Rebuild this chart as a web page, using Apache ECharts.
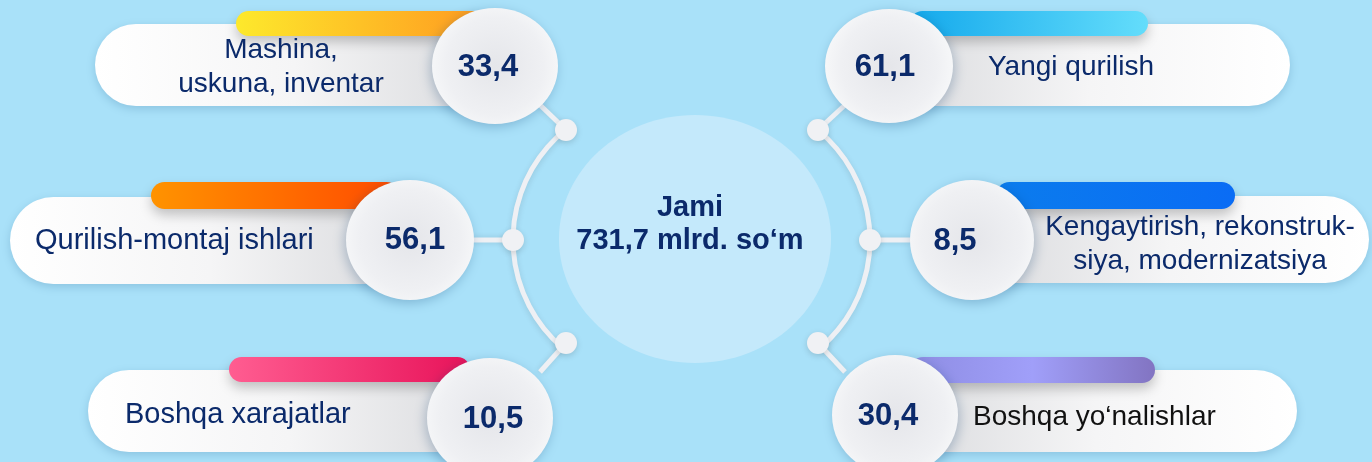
<!DOCTYPE html>
<html>
<head>
<meta charset="utf-8">
<script src="https://cdn.jsdelivr.net/npm/echarts@6/dist/echarts.min.js"></script>
<style>
  html, body { margin: 0; padding: 0; background: #a9e1f9; }
  #chart { width: 1372px; height: 462px; }
</style>
</head>
<body>
<div id="chart"></div>
<script>
// data
const categories = [
  'Mashina,\nuskuna, inventar',
  'Qurilish-montaj ishlari',
  'Boshqa xarajatlar',
  'Yangi qurilish',
  'Kengaytirish, rekonstruk-\nsiya, modernizatsiya',
  'Boshqa yo‘nalishlar'
]
const values = [33.4, 56.1, 10.5, 61.1, 8.5, 30.4]
const totalLabel = 'Jami'
const total = 731.7
const unit = 'mlrd. so‘m'

// styling
const barColors = [
  ['#fde92c', '#ff9a20'],
  ['#ff9300', '#ff4a00'],
  ['#ff5d91', '#e8135a'],
  ['#14a9ec', '#64ddfb'],
  ['#0b7ced', '#0a6cf5'],
  ['#8e8de3', '#a09ff9', '#8274c2']
]
const labelColors = ['#0b2a6b', '#0b2a6b', '#0b2a6b', '#0b2a6b', '#0b2a6b', '#111111']
const labelSizes = [28, 29, 29, 28, 28, 28]
const navy = '#0b2a6b'

// layout of each card: white pill, gradient bar, value circle, text anchors
const layout = [
  { side: 'L', card: [95, 24, 400, 82], bar: [236, 11, 249, 25], circ: [495, 66, 63, 58], val: [488, 67], lab: [281, 67], align: 'center', conn: [[566, 130], [540, 105]] },
  { side: 'L', card: [10, 197, 400, 87], bar: [151, 182, 249, 27], circ: [410, 240, 64, 60], val: [415, 240], lab: [35, 241], align: 'left', conn: [[513, 240], [470, 240]] },
  { side: 'L', card: [88, 370, 402, 82], bar: [229, 357, 241, 25], circ: [490, 418, 63, 60], val: [493, 419], lab: [125, 415], align: 'left', conn: [[566, 343], [540, 372]] },
  { side: 'R', card: [889, 24, 401, 82], bar: [910, 11, 238, 25], circ: [889, 66, 64, 57], val: [885, 67], lab: [988, 67], align: 'left', conn: [[818, 130], [845, 105]] },
  { side: 'R', card: [972, 196, 397, 87], bar: [996, 182, 239, 27], circ: [972, 240, 62, 60], val: [955, 241], lab: [1200, 244], align: 'center', conn: [[870, 240], [912, 240]] },
  { side: 'R', card: [895, 370, 402, 82], bar: [910, 357, 245, 26], circ: [895, 415, 63, 60], val: [888, 416], lab: [973, 417], align: 'left', conn: [[818, 343], [845, 372]] }
]

const fmt = v => v.toFixed(1).replace('.', ',')
const deg = d => d * Math.PI / 180

const chart = echarts.init(document.getElementById('chart'))

const decor = [
  {
    type: 'ellipse', z: 1,
    shape: { cx: 695, cy: 239, rx: 136, ry: 124 },
    style: { fill: '#c4e9fb' }
  },
  {
    type: 'arc', z: 1,
    shape: { cx: 655, cy: 240, r: 142, startAngle: deg(130.8), endAngle: deg(231) },
    style: { stroke: '#eef0f4', lineWidth: 5, shadowBlur: 6, shadowColor: 'rgba(0,0,0,0.12)', shadowOffsetY: 2 }
  },
  {
    type: 'arc', z: 1,
    shape: { cx: 728, cy: 240, r: 142, startAngle: deg(-50.7), endAngle: deg(48.8) },
    style: { stroke: '#eef0f4', lineWidth: 5, shadowBlur: 6, shadowColor: 'rgba(0,0,0,0.12)', shadowOffsetY: 2 }
  },
  {
    type: 'text', z: 3,
    style: {
      text: totalLabel + '\n' + fmt(total) + ' ' + unit,
      x: 690, y: 224, align: 'center', verticalAlign: 'middle',
      font: 'bold 29px "Liberation Sans", Arial, sans-serif', fill: navy, lineHeight: 33
    }
  }
]
layout.forEach(l => {
  decor.push({
    type: 'line', z: 1,
    shape: { x1: l.conn[0][0], y1: l.conn[0][1], x2: l.conn[1][0], y2: l.conn[1][1] },
    style: { stroke: '#eef0f4', lineWidth: 5, shadowBlur: 6, shadowColor: 'rgba(0,0,0,0.12)' }
  })
  decor.push({
    type: 'circle', z: 2,
    shape: { cx: l.conn[0][0], cy: l.conn[0][1], r: 11 },
    style: { fill: '#f0f1f4', shadowBlur: 6, shadowColor: 'rgba(0,0,0,0.15)', shadowOffsetY: 2 }
  })
})

function renderCard(params, api) {
  const i = params.dataIndex
  const l = layout[i]
  const v = api.value(1)
  const left = l.side === 'L'
  const [cx, cy, cw, ch] = l.card
  const r = ch / 2
  const cols = barColors[i]
  const barStops = cols.map((c, k) => ({ offset: k / (cols.length - 1), color: c }))
  return {
    type: 'group',
    children: [
      {
        type: 'rect',
        shape: { x: cx, y: cy, width: cw, height: ch, r: left ? [r, 0, 0, r] : [0, r, r, 0] },
        style: {
          fill: new echarts.graphic.LinearGradient(left ? 0 : 1, 0, left ? 1 : 0, 0, [
            { offset: 0, color: '#ffffff' },
            { offset: 0.5, color: '#f5f5f6' },
            { offset: 1, color: '#d9dadd' }
          ]),
          shadowBlur: 10, shadowColor: 'rgba(0,60,110,0.18)', shadowOffsetY: 3
        }
      },
      {
        type: 'rect',
        shape: { x: l.bar[0], y: l.bar[1], width: l.bar[2], height: l.bar[3], r: l.bar[3] / 2 },
        style: {
          fill: new echarts.graphic.LinearGradient(0, 0, 1, 0, barStops),
          shadowBlur: 12, shadowColor: 'rgba(0,0,0,0.22)', shadowOffsetY: 6
        }
      },
      {
        type: 'ellipse',
        shape: { cx: l.circ[0], cy: l.circ[1], rx: l.circ[2], ry: l.circ[3] },
        style: {
          fill: new echarts.graphic.RadialGradient(0.5, 0.5, 0.6, [
            { offset: 0, color: '#e5e6ea' },
            { offset: 0.7, color: '#eff0f3' },
            { offset: 1, color: '#f8f9fa' }
          ]),
          shadowBlur: 12, shadowColor: 'rgba(0,50,100,0.25)', shadowOffsetX: left ? -2 : 2, shadowOffsetY: 3
        }
      },
      {
        type: 'text',
        style: {
          text: categories[i], x: l.lab[0], y: l.lab[1], align: l.align, verticalAlign: 'middle',
          font: labelSizes[i] + 'px "Liberation Sans", Arial, sans-serif', fill: labelColors[i], lineHeight: 34
        }
      },
      {
        type: 'text',
        style: {
          text: fmt(v), x: l.val[0], y: l.val[1], align: 'center', verticalAlign: 'middle',
          font: 'bold 31px "Liberation Sans", Arial, sans-serif', fill: navy
        }
      }
    ]
  }
}

chart.setOption({
  backgroundColor: '#a9e1f9',
  animation: false,
  graphic: decor,
  series: [{
    type: 'custom',
    coordinateSystem: 'none',
    z: 5,
    silent: true,
    data: values.map((v, i) => [i, v]),
    renderItem: renderCard
  }]
})
</script>
</body>
</html>
